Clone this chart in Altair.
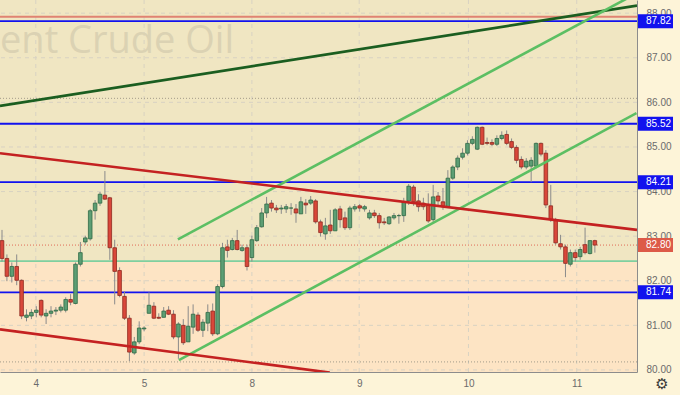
import altair as alt
import pandas as pd

# ---- candle data (hourly) ----
opens = [82.90, 82.50, 82.10, 82.32, 82.01, 81.18, 81.21, 81.29, 81.56, 81.21,
         81.27, 81.32, 81.34, 81.34, 81.58, 81.49, 82.37, 82.87, 82.94, 83.57,
         83.74, 83.92, 83.86, 82.74, 82.23, 81.65, 81.16, 80.38, 80.63, 80.92,
         81.27, 81.43, 81.18, 81.18, 81.34, 81.25, 80.74, 81.00, 80.63, 80.96,
         81.23, 80.89, 81.05, 81.32, 80.81, 81.87, 82.76, 82.70, 82.90, 82.68,
         82.74, 82.52, 82.90, 83.21, 83.52, 83.74, 83.63, 83.61, 83.61, 83.63,
         83.61, 83.50, 83.74, 83.74, 83.79, 83.32, 83.05, 83.25, 83.12, 83.61,
         83.41, 83.19, 83.61, 83.68, 83.61, 83.41, 83.52, 83.46, 83.32, 83.28,
         83.41, 83.46, 83.46, 83.79, 84.10, 83.79, 83.74, 83.70, 83.37, 83.90,
         83.77, 83.66, 84.30, 84.55, 84.77, 84.86, 85.08, 84.95, 85.44, 85.10,
         85.10, 85.06, 85.19, 85.28, 85.12, 84.99, 84.72, 84.55, 84.57, 84.57,
         85.08, 84.86, 83.68, 83.37, 82.83, 82.76, 82.37, 82.63, 82.54, 82.81,
         82.61, 82.90]
highs = [83.14, 82.59, 82.41, 82.59, 82.03, 81.36, 81.36, 81.43, 81.58, 81.36,
         81.43, 81.41, 81.47, 81.63, 81.70, 82.41, 82.87, 83.01, 83.61, 83.81,
         83.99, 84.46, 83.88, 82.92, 82.30, 81.76, 81.23, 80.74, 81.09, 80.98,
         81.74, 81.52, 81.27, 81.41, 81.43, 81.34, 81.07, 81.14, 81.43, 81.47,
         81.29, 81.14, 81.47, 81.49, 81.92, 82.85, 82.92, 82.96, 83.14, 82.81,
         82.81, 83.01, 83.25, 83.63, 83.88, 83.81, 83.70, 83.70, 83.72, 83.74,
         83.72, 83.88, 83.83, 83.90, 83.83, 83.37, 83.41, 83.59, 83.63, 83.68,
         83.55, 83.68, 83.72, 83.72, 83.70, 83.59, 83.59, 83.52, 83.41, 83.45,
         83.52, 83.50, 83.86, 84.17, 84.15, 83.94, 83.86, 83.96, 84.15, 83.99,
         84.08, 84.48, 84.59, 84.81, 84.97, 85.15, 85.24, 85.46, 85.46, 85.21,
         85.17, 85.26, 85.35, 85.37, 85.19, 85.04, 84.79, 84.75, 84.77, 85.10,
         85.10, 84.93, 84.15, 83.41, 83.03, 82.81, 82.70, 82.70, 82.76, 83.19,
         82.90, 82.92]
lows = [82.43, 81.99, 81.96, 81.90, 81.14, 81.09, 81.14, 81.18, 81.18, 81.03,
        81.18, 81.23, 81.29, 81.29, 81.45, 81.47, 82.32, 82.81, 82.90, 83.37,
        83.68, 83.81, 82.47, 81.47, 81.63, 81.12, 80.20, 80.34, 80.58, 80.87,
        81.27, 81.14, 81.14, 81.18, 81.23, 80.69, 80.25, 80.56, 80.63, 80.81,
        80.85, 80.74, 80.87, 80.76, 80.78, 81.83, 82.52, 82.68, 82.68, 82.65,
        82.23, 82.43, 82.87, 83.19, 83.41, 83.55, 83.52, 83.50, 83.52, 83.48,
        83.30, 83.50, 83.50, 83.70, 83.28, 82.99, 82.92, 83.05, 83.12, 83.19,
        83.14, 83.14, 83.55, 83.55, 83.55, 83.37, 83.41, 83.17, 83.25, 83.25,
        83.37, 83.28, 83.32, 83.70, 83.68, 83.55, 83.59, 83.30, 83.32, 83.70,
        83.59, 83.63, 84.26, 84.48, 84.72, 84.81, 85.04, 84.93, 85.04, 85.04,
        85.02, 85.02, 85.15, 85.04, 84.95, 84.63, 84.50, 84.50, 84.21, 84.52,
        84.79, 83.63, 83.32, 82.81, 82.70, 82.08, 82.32, 82.43, 82.47, 82.59,
        82.59, 82.63]
closes = [82.50, 82.10, 82.32, 82.01, 81.21, 81.23, 81.29, 81.34, 81.23, 81.27,
          81.32, 81.34, 81.41, 81.58, 81.52, 82.37, 82.63, 82.96, 83.57, 83.74,
          83.94, 83.83, 82.74, 82.21, 81.67, 81.16, 80.40, 80.63, 80.94, 80.94,
          81.45, 81.16, 81.16, 81.32, 81.25, 80.74, 81.03, 80.61, 80.98, 81.25,
          80.89, 81.07, 81.29, 80.81, 81.87, 82.74, 82.68, 82.90, 82.70, 82.74,
          82.32, 82.92, 83.19, 83.52, 83.72, 83.63, 83.59, 83.63, 83.66, 83.63,
          83.52, 83.77, 83.70, 83.81, 83.32, 83.08, 83.23, 83.12, 83.59, 83.37,
          83.19, 83.63, 83.66, 83.63, 83.66, 83.52, 83.46, 83.30, 83.30, 83.43,
          83.46, 83.46, 83.77, 84.12, 83.77, 83.66, 83.66, 83.34, 83.88, 83.79,
          83.66, 84.30, 84.55, 84.75, 84.86, 85.08, 85.17, 85.44, 85.06, 85.08,
          85.06, 85.19, 85.26, 85.08, 84.99, 84.70, 84.55, 84.68, 84.70, 85.08,
          84.84, 83.70, 83.37, 82.85, 82.76, 82.39, 82.63, 82.52, 82.70, 82.63,
          82.90, 82.80]

# ---- axes ----
day_pos = [6.9, 29.0, 51.0, 72.9, 95.2, 117.3]
day_labels = ["4", "5", "8", "9", "10", "11"]
price_ticks = [80, 81, 82, 83, 84, 85, 86, 87, 88]

# ---- horizontal levels ----
blue_levels = [87.82, 85.52, 84.21, 81.74]
last_price = 82.80
mint_level = 82.44
salmon_level = 87.92
dotted_levels = [86.09, 80.18]

# ---- trend lines: (name, start index, start price, end index, end price) ----
trend_names = ["dark", "chan_up", "chan_lo", "red_up", "red_lo"]
trend_x1 = [-0.41, 35.9, 36.1, -0.41, -0.41]
trend_p1 = [85.92, 82.93, 80.22, 84.86, 80.91]
trend_x2 = [129.6, 129.6, 129.5, 129.6, 66.9]
trend_p2 = [88.17, 88.45, 85.76, 83.14, 79.94]
trend_colors = ["#1b5e20", "#5cbf63", "#5cbf63", "#c42121", "#c42121"]

X_DOMAIN = [-0.41, 129.6]
Y_DOMAIN = [79.954, 88.295]
W, H = 637, 372

KHAKI = "#f0e6c2"
PEACH = "#fde4c4"
AXIS_BG = "#fdf4d8"
BLUE = "#1212ee"
REDBOX = "#dd5a48"
GRID = "#d8d2c2"

xs = alt.Scale(domain=X_DOMAIN, nice=False, zero=False, padding=0)
ys = alt.Scale(domain=Y_DOMAIN, nice=False, zero=False, padding=0)

label_expr = "{}[indexof({}, datum.value)]".format(
    "[" + ",".join("'%s'" % s for s in day_labels) + "]",
    "[" + ",".join(str(v) for v in day_pos) + "]",
)

AX_Y = alt.Axis(orient="right", values=price_ticks, format=".2f", title=None,
                grid=False, ticks=False, labelPadding=9, labelFontSize=10,
                labelColor="#6b6b6b", labelFont="Liberation Sans",
                domainColor="#8c8c8c", labelFlush=False)
AX_X = alt.Axis(orient="bottom", values=day_pos, labelExpr=label_expr, title=None,
                grid=False, ticks=False, labelPadding=6, labelFontSize=10,
                labelColor="#6b6b6b", labelFont="Liberation Sans",
                domainColor="#8c8c8c", labelFlush=False)


def Y(f):
    return alt.Y(f, scale=ys, axis=AX_Y)


def X(f):
    return alt.X(f, scale=xs, axis=AX_X)


candles = pd.DataFrame({
    "i": list(range(len(opens))),
    "open": opens, "high": highs, "low": lows, "close": closes,
})
candles["dir"] = ["up" if c >= o else "down" for o, c in zip(opens, closes)]

# background bands
bands = pd.DataFrame({"top": [Y_DOMAIN[1], mint_level],
                      "bot": [mint_level, Y_DOMAIN[0]],
                      "c": ["k", "p"]})
bg = alt.Chart(bands).mark_rect(clip=True).encode(
    x=alt.value(0), x2=alt.value(W),
    y=Y("top:Q"), y2="bot:Q",
    color=alt.Color("c:N", scale=alt.Scale(domain=["k", "p"], range=[KHAKI, PEACH]), legend=None),
)

vgrid = alt.Chart(pd.DataFrame({"d": day_pos})).mark_rule(
    color=GRID, strokeDash=[4, 4], strokeWidth=1).encode(x=X("d:Q"))

hgrid = alt.Chart(pd.DataFrame({"p": price_ticks})).mark_rule(
    color=GRID, strokeDash=[4, 4], strokeWidth=1).encode(y=Y("p:Q"))

watermark = alt.Chart(pd.DataFrame({"t": ["ent Crude Oil"]})).mark_text(
    align="left", baseline="alphabetic", fontSize=38, font="Open Sans",
    color="#dbd2b3").encode(text="t:N", x=alt.value(0), y=alt.value(53))

dotted = alt.Chart(pd.DataFrame({"p": dotted_levels})).mark_rule(
    color="#a39c8a", strokeDash=[1, 2], strokeWidth=1).encode(y=Y("p:Q"))

mint = alt.Chart(pd.DataFrame({"p": [mint_level]})).mark_rule(
    color="#7fcf9f", strokeWidth=1.6).encode(y=Y("p:Q"))

salmon = alt.Chart(pd.DataFrame({"p": [salmon_level]})).mark_rule(
    color="#e08372", strokeWidth=2).encode(y=Y("p:Q"))

last_line = alt.Chart(pd.DataFrame({"p": [last_price]})).mark_rule(
    color="#e06a58", strokeDash=[1, 2], strokeWidth=1).encode(y=Y("p:Q"))

blue = alt.Chart(pd.DataFrame({"p": blue_levels})).mark_rule(
    color=BLUE, strokeWidth=1.8).encode(y=Y("p:Q"))

wicks = alt.Chart(candles).mark_rule(color="#8a8a8a", strokeWidth=1).encode(
    x=X("i:Q"), y=Y("low:Q"), y2="high:Q")

bodies = alt.Chart(candles).mark_bar(size=3.6, strokeWidth=0.8).encode(
    x=X("i:Q"), y=Y("open:Q"), y2="close:Q",
    color=alt.Color("dir:N", scale=alt.Scale(domain=["up", "down"], range=["#5d9e74", "#d9473a"]), legend=None),
    stroke=alt.Stroke("dir:N", scale=alt.Scale(domain=["up", "down"], range=["#2f6a45", "#8e2a20"]), legend=None),
)

rows = []
for n, a, b, c, d in zip(trend_names, trend_x1, trend_p1, trend_x2, trend_p2):
    rows.append({"name": n, "x": a, "p": b, "k": 0})
    rows.append({"name": n, "x": c, "p": d, "k": 1})
trends = alt.Chart(pd.DataFrame(rows)).mark_line(strokeWidth=2.6, clip=True).encode(
    x=X("x:Q"), y=Y("p:Q"),
    detail="name:N", order="k:Q",
    color=alt.Color("name:N", scale=alt.Scale(domain=trend_names, range=trend_colors), legend=None),
)

boxes_df = pd.DataFrame({
    "p": blue_levels + [last_price],
    "kind": ["b"] * len(blue_levels) + ["r"],
})
boxes_df["txt"] = ["%.2f" % v for v in boxes_df["p"]]
boxes = alt.Chart(boxes_df).mark_point(
    shape="M-2.5,-1H2.5V1H-2.5Z", size=196, filled=True, opacity=1, strokeWidth=0).encode(
    x=alt.value(655.5),
    y=Y("p:Q"),
    color=alt.Color("kind:N", scale=alt.Scale(domain=["b", "r"], range=[BLUE, REDBOX]), legend=None),
)
box_txt = alt.Chart(boxes_df).mark_text(
    align="left", baseline="middle", fontSize=10, font="Liberation Sans", color="white").encode(
    x=alt.value(646), y=Y("p:Q"), text="txt:N")

gear = alt.Chart(pd.DataFrame({"t": ["\u2699"]})).mark_text(
    fontSize=15, font="DejaVu Sans", color="#3a3a3a").encode(
    text="t:N", x=alt.value(662), y=alt.value(384))

chart = alt.layer(
    bg, vgrid, hgrid, watermark, dotted, mint, salmon, last_line, blue,
    wicks, bodies, trends, boxes, box_txt, gear,
).resolve_scale(color="independent", stroke="independent").properties(
    width=W, height=H,
    background=AXIS_BG,
    padding={"left": 0, "top": 0, "right": 43, "bottom": 23},
    autosize=alt.AutoSizeParams(type="none"),
).configure_view(stroke=None)

chart.save("out.html", embed_options={"renderer": "svg", "actions": False})
